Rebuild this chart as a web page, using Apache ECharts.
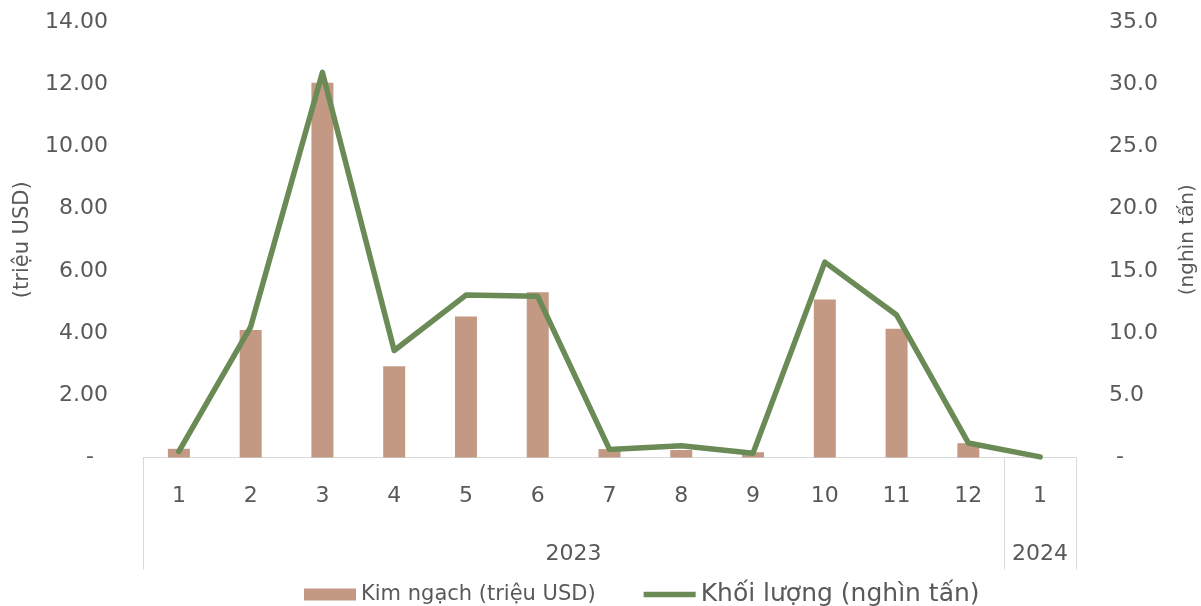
<!DOCTYPE html>
<html>
<head>
<meta charset="utf-8">
<script src="https://cdn.jsdelivr.net/npm/echarts@6/dist/echarts.min.js"></script>
<style>
html,body{margin:0;padding:0;background:#fff;}
#chart{width:1201px;height:606px;}
</style>
</head>
<body>
<div id="chart"></div>
<script>
// ---- data ----
const months = ['1','2','3','4','5','6','7','8','9','10','11','12','1'];
const yearLabels = ['2023', '2024'];
const kimNgach = [0.28, 4.10, 12.05, 2.93, 4.53, 5.31, 0.27, 0.24, 0.17, 5.08, 4.14, 0.46, 0];
const khoiLuong = [0.5, 10.5, 30.95, 8.6, 13.05, 12.95, 0.65, 0.95, 0.35, 15.7, 11.45, 1.17, 0.05];
const seriesNames = ['Kim ngạch (triệu USD)', 'Khối lượng (nghìn tấn)'];
const axisNames = ['(triệu USD)', '(nghìn tấn)'];

const FONT = '"DejaVu Sans", "Noto Sans", sans-serif';
const TXT = '#595959';
const GRIDC = '#d9d9d9';
const BAR = '#C49984';
const LINE = '#6A8A56';

const chart = echarts.init(document.getElementById('chart'), null, {renderer: 'canvas'});
chart.setOption({
  animation: false,
  backgroundColor: '#ffffff',
  textStyle: {fontFamily: FONT, color: TXT},
  grid: {left: 143, right: 125, top: 22, bottom: 148.5, containLabel: false, outerBoundsMode: 'none'},
  legend: {
    left: 299, top: 577,
    itemWidth: 52, itemHeight: 12, itemGap: 48,
    data: [
      {name: seriesNames[0], icon: 'rect'},
      {name: seriesNames[1], icon: 'path://M0,0L0.01,0L0.01,0.01ZM0,3.25L52,3.25L52,8.75L0,8.75ZM52,12L51.99,12L51.99,11.99Z'}
    ],
    formatter: function (name) {
      return name === seriesNames[0] ? '{a|' + name + '}' : '{b|' + name + '}';
    },
    textStyle: {
      color: TXT, fontFamily: FONT,
      rich: {
        a: {fontSize: 21, color: TXT, fontFamily: FONT},
        b: {fontSize: 25, color: TXT, fontFamily: FONT}
      }
    }
  },
  xAxis: [
    {
      type: 'category',
      data: months,
      boundaryGap: true,
      axisLine: {show: true, lineStyle: {color: GRIDC, width: 1}},
      axisTick: {
        show: true, length: 112, alignWithLabel: false,
        lineStyle: {color: GRIDC, width: 1},
        interval: function (i) { return i === 0 || i === 12; }
      },
      axisLabel: {fontSize: 22, color: TXT, margin: 28, interval: 0, fontFamily: FONT},
      splitLine: {show: false}
    },
    {
      type: 'value',
      position: 'bottom',
      min: 0, max: 13, interval: 0.5,
      axisLine: {show: false},
      axisTick: {show: false},
      splitLine: {show: false},
      axisLabel: {
        fontSize: 22, color: TXT, margin: 86, fontFamily: FONT,
        showMinLabel: true, showMaxLabel: true,
        formatter: function (v) {
          if (Math.abs(v - 6) < 1e-6) return yearLabels[0];
          if (Math.abs(v - 12.5) < 1e-6) return yearLabels[1];
          return '';
        }
      }
    }
  ],
  yAxis: [
    {
      type: 'value',
      min: 0, max: 14, interval: 2,
      name: axisNames[0], nameLocation: 'middle', nameGap: 110, nameRotate: 90,
      nameTextStyle: {fontSize: 21, color: TXT, fontFamily: FONT},
      axisLine: {show: false}, axisTick: {show: false},
      splitLine: {show: false},
      axisLabel: {
        fontSize: 22, color: TXT, margin: 35, fontFamily: FONT,
        formatter: function (v) { return v === 0 ? '-  ' : v.toFixed(2); }
      }
    },
    {
      type: 'value',
      min: 0, max: 35, interval: 5,
      name: axisNames[1], nameLocation: 'middle', nameGap: 102, nameRotate: 90,
      nameTextStyle: {fontSize: 20, color: TXT, fontFamily: FONT},
      axisLine: {show: false}, axisTick: {show: false},
      splitLine: {show: false},
      axisLabel: {
        fontSize: 22, color: TXT, margin: 33, fontFamily: FONT,
        formatter: function (v) { return v === 0 ? ' -' : v.toFixed(1); }
      }
    }
  ],
  series: [
    {
      name: seriesNames[0],
      type: 'bar',
      xAxisIndex: 0, yAxisIndex: 0,
      data: kimNgach,
      barWidth: 22,
      itemStyle: {color: BAR}
    },
    {
      name: seriesNames[1],
      type: 'line',
      xAxisIndex: 0, yAxisIndex: 1,
      data: khoiLuong,
      symbol: 'none',
      lineStyle: {color: LINE, width: 5.5, join: 'round', cap: 'round'},
      itemStyle: {color: LINE}
    }
  ]
});
</script>
</body>
</html>
